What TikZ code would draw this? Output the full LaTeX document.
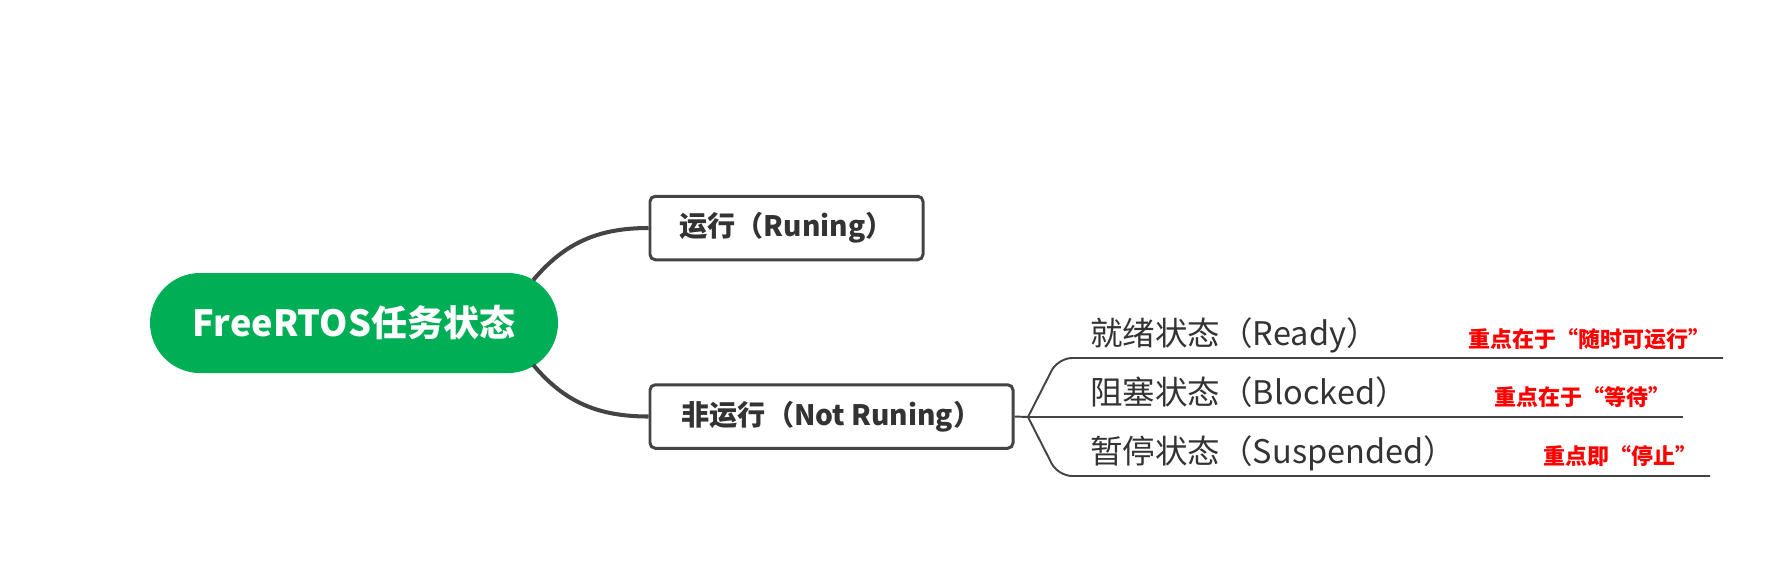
\documentclass[tikz,border=0pt]{standalone}
\usepackage{fontspec}
\setmainfont{Noto Sans CJK SC}
\usetikzlibrary{positioning, calc}

\definecolor{rootgreen}{RGB}{0,174,85}
\definecolor{darkline}{RGB}{68,68,68}
\definecolor{textgray}{RGB}{51,51,51}

\begin{document}
\begin{tikzpicture}[
    root/.style={fill=rootgreen, text=white, font=\fontsize{20.5}{25}\selectfont\bfseries,
        minimum width=8.16cm, minimum height=2cm, rounded corners=1cm, inner sep=0pt},
    state/.style={draw=darkline, line width=1.7pt, rounded corners=3pt, fill=white, text=textgray,
        font=\fontsize{16}{20}\selectfont\bfseries, minimum height=1.27cm, inner sep=0pt},
    trunk/.style={darkline, line width=2.3pt},
    branch/.style={darkline, line width=1.1pt, rounded corners=8pt},
    leaf/.style={text=textgray, font=\fontsize{18.5}{22}\selectfont, inner sep=0pt, anchor=base west},
    note/.style={text=red, font=\fontsize{12.5}{15}\selectfont\bfseries, inner sep=0pt, anchor=base west}
]
    \useasboundingbox (0, 0) rectangle (35.78, -11.48);

    % Central topic
    \node[root] (root) at (7.08, -6.46) {FreeRTOS任务状态};

    % Main states
    \node[state, minimum width=5.46cm] (run) at (15.73, -4.56) {运行（Runing）};
    \node[state, minimum width=7.26cm] (notrun) at (16.63, -8.33) {非运行（Not Runing）};

    % Curved connectors
    \draw[trunk] ([shift={(-0.5, 0.86)}]root.east) to[out=50, in=180] (run.west);
    \draw[trunk] ([shift={(-0.5, -0.84)}]root.east) to[out=-50, in=180] (notrun.west);

    % Sub states
    \node[leaf] (ready) at (21.8, -6.90) {就绪状态（Ready）};
    \node[leaf] (blocked) at (21.8, -8.08) {阻塞状态（Blocked）};
    \node[leaf] (suspended) at (21.8, -9.26) {暂停状态（Suspended）};

    % Notes
    \node[note] (readynote) at (29.36, -6.94) {重点在于“随时可运行”};
    \node[note] (blockednote) at (29.88, -8.10) {重点在于“等待”};
    \node[note] (suspendednote) at (30.86, -9.28) {重点即“停止”};

    % Fork and underlines
    \coordinate (fork) at (20.56, -8.34);
    \coordinate (readyend) at (34.46, -7.16);
    \coordinate (blockedend) at (33.66, -8.34);
    \coordinate (suspendedend) at (34.20, -9.52);

    \draw[branch] (notrun.east) -- (fork);
    \draw[branch] (fork) -- (21.16, -7.16) -- (readyend);
    \draw[branch] (fork) -- (blockedend);
    \draw[branch] (fork) -- (21.16, -9.52) -- (suspendedend);

\end{tikzpicture}
\end{document}
